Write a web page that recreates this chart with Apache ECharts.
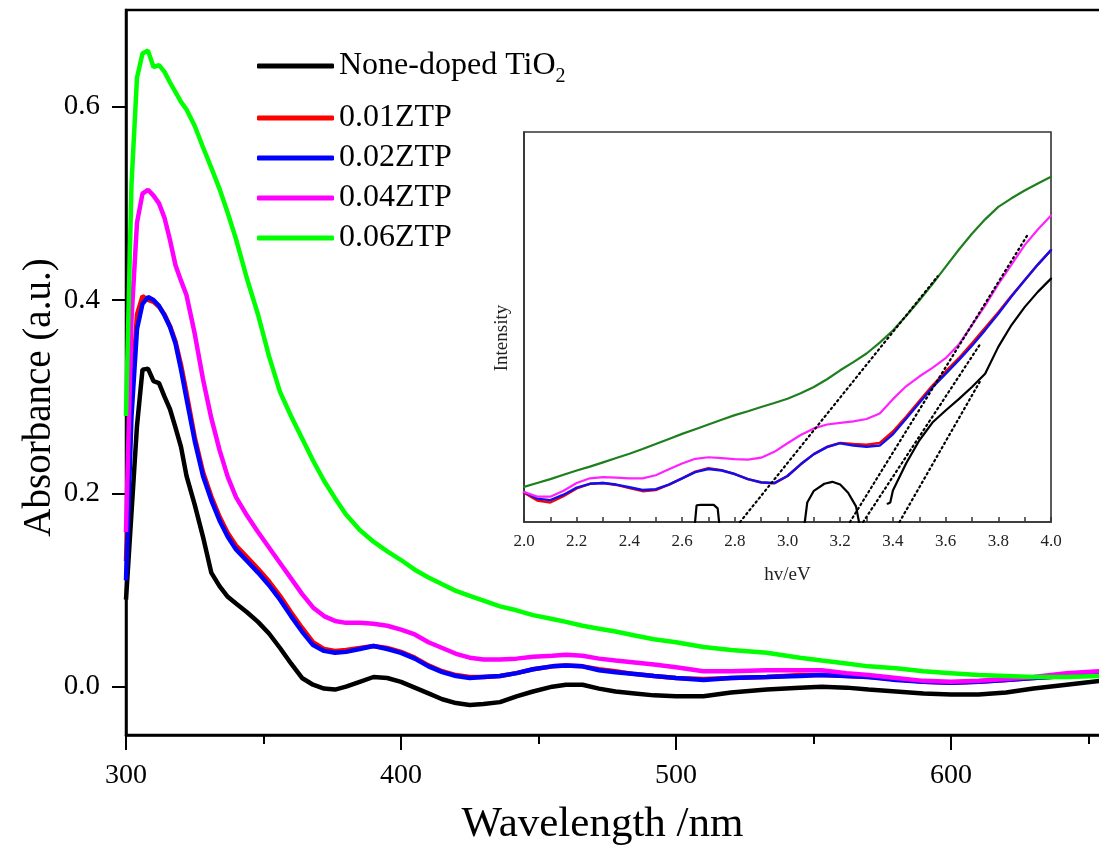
<!DOCTYPE html>
<html><head><meta charset="utf-8">
<script src="https://cdn.jsdelivr.net/npm/echarts@6/dist/echarts.min.js"></script>
<style>html,body{margin:0;padding:0;background:#fff}#c{width:1099px;height:848px}</style>
</head><body><div id="c"></div>
<script>
// ---------- main chart data ----------
const wavelength = [300,302,304,306,308,310,312,314,316,318,320,322,325,328,331,334,337,340,344,348,352,356,360,364,368,372,376,380,385,390,395,400,405,410,415,420,425,430,436,442,448,455,460,466,472,478,485,492,500,510,520,533,545,553,562,570,580,590,600,610,620,630,642,654];
const absNoneDoped = [0.09,0.18,0.27,0.328,0.329,0.316,0.314,0.300,0.287,0.268,0.248,0.218,0.188,0.155,0.118,0.104,0.093,0.086,0.077,0.067,0.055,0.040,0.024,0.009,0.002,-0.002,-0.003,0.000,0.005,0.010,0.009,0.005,-0.001,-0.007,-0.013,-0.017,-0.019,-0.018,-0.016,-0.010,-0.005,0.000,0.002,0.002,-0.002,-0.005,-0.007,-0.009,-0.010,-0.010,-0.006,-0.003,-0.001,0.000,-0.001,-0.003,-0.005,-0.007,-0.008,-0.008,-0.006,-0.002,0.002,0.006];
const abs001 = [0.13,0.30,0.385,0.404,0.400,0.398,0.393,0.385,0.373,0.357,0.333,0.304,0.258,0.222,0.197,0.176,0.159,0.146,0.134,0.122,0.109,0.094,0.077,0.061,0.046,0.039,0.037,0.038,0.040,0.042,0.040,0.036,0.030,0.022,0.016,0.012,0.010,0.010,0.011,0.014,0.018,0.021,0.022,0.021,0.018,0.016,0.013,0.011,0.009,0.008,0.009,0.010,0.012,0.012,0.011,0.010,0.008,0.005,0.004,0.005,0.007,0.009,0.011,0.013];
const abs002 = [0.11,0.28,0.37,0.396,0.403,0.400,0.394,0.384,0.372,0.355,0.328,0.298,0.254,0.218,0.193,0.172,0.155,0.142,0.130,0.118,0.105,0.090,0.073,0.057,0.043,0.037,0.035,0.036,0.039,0.042,0.039,0.035,0.029,0.021,0.015,0.011,0.009,0.010,0.011,0.014,0.018,0.021,0.022,0.021,0.017,0.015,0.013,0.011,0.009,0.007,0.009,0.010,0.011,0.012,0.011,0.010,0.007,0.005,0.004,0.005,0.007,0.009,0.011,0.013];
const abs004 = [0.16,0.38,0.48,0.510,0.514,0.508,0.500,0.485,0.462,0.436,0.420,0.405,0.365,0.318,0.278,0.245,0.217,0.196,0.177,0.160,0.144,0.128,0.112,0.096,0.082,0.073,0.068,0.066,0.066,0.065,0.063,0.059,0.054,0.046,0.040,0.034,0.030,0.028,0.028,0.029,0.031,0.032,0.033,0.032,0.029,0.027,0.025,0.023,0.020,0.016,0.016,0.017,0.017,0.017,0.014,0.012,0.009,0.006,0.005,0.006,0.008,0.010,0.014,0.016];
const abs006 = [0.28,0.52,0.63,0.655,0.658,0.641,0.643,0.636,0.625,0.615,0.605,0.597,0.580,0.558,0.537,0.515,0.490,0.463,0.422,0.385,0.342,0.305,0.280,0.257,0.234,0.213,0.195,0.178,0.162,0.150,0.140,0.131,0.121,0.113,0.106,0.099,0.094,0.089,0.083,0.079,0.074,0.070,0.067,0.063,0.060,0.057,0.053,0.049,0.046,0.041,0.038,0.035,0.030,0.027,0.024,0.021,0.019,0.016,0.014,0.012,0.011,0.010,0.010,0.011];
const seriesNames = ['None-doped TiO2','0.01ZTP','0.02ZTP','0.04ZTP','0.06ZTP'];
const xMajorTicks = [300,400,500,600];
const xMinorTicks = [350,450,550,650];
const yMajorTicks = [0,0.2,0.4,0.6];

// ---------- inset data ----------
const photonEnergy = [2.00,2.05,2.10,2.15,2.20,2.25,2.30,2.35,2.40,2.45,2.50,2.55,2.60,2.65,2.70,2.75,2.80,2.85,2.90,2.95,3.00,3.05,3.10,3.15,3.20,3.25,3.30,3.35,3.40,3.45,3.50,3.55,3.60,3.65,3.70,3.75,3.80,3.85,3.90,3.95,4.00];
const insetGreen = [9.0,10.0,11.0,12.1,13.2,14.2,15.3,16.4,17.5,18.7,20.0,21.3,22.6,23.8,25.0,26.2,27.4,28.4,29.5,30.5,31.6,33.0,34.6,36.6,38.9,41.0,43.2,46.0,49.1,52.8,56.8,61.0,65.4,69.8,73.9,77.6,80.8,83.0,85.0,86.8,88.5];
const insetMagenta = [7.7,6.5,6.5,8.0,10.0,11.2,11.5,11.4,11.2,11.2,12.0,13.5,15.0,16.2,16.6,16.4,16.1,16.0,16.5,18.0,20.2,22.3,24.0,25.0,25.4,25.8,26.4,27.8,31.5,34.8,37.3,39.5,42.0,45.5,50.5,55.5,61.0,66.0,71.0,75.0,78.6];
const insetRed = [7.5,5.5,5.0,6.6,8.6,9.8,10.0,9.5,8.7,7.9,8.2,9.6,11.2,12.9,13.8,13.3,12.3,11.0,10.1,9.9,11.8,14.8,17.4,19.3,20.3,20.0,19.8,20.3,23.2,27.0,31.0,35.0,38.6,42.0,45.8,49.8,53.8,58.0,62.0,66.0,69.7];
const insetBlue = [7.7,6.0,5.6,7.0,8.8,9.8,10.0,9.6,8.9,8.2,8.4,9.6,11.2,12.8,13.6,13.2,12.3,11.0,10.2,10.0,11.8,14.8,17.4,19.2,20.2,19.6,19.3,19.6,22.5,26.5,30.5,34.5,38.0,41.5,45.2,49.2,53.4,57.8,62.0,66.0,69.7];
const insetBlackE = [2.645,2.655,2.67,2.72,2.735,2.745,2.75, 3.06,3.075,3.10,3.14,3.17,3.20,3.23,3.26,3.28,3.29, 3.38,3.39,3.40,3.45,3.50,3.55,3.60,3.65,3.70,3.75,3.80,3.85,3.90,3.95,4.00];
const insetBlackV = [-3,4.3,4.4,4.4,3.5,-3,null, -3,5.0,8.0,9.8,10.3,9.6,7.5,4.0,-3,null, 4.7,5.0,8.1,15.0,20.9,25.5,28.6,31.5,34.6,38.0,44.9,50.5,55.1,59.0,62.4];
const tangentGreenE = [2.82,3.57];   const tangentGreenV = [0,63];
const tangentMagentaE = [3.237,3.91]; const tangentMagentaV = [0,73.5];
const tangentBlueE = [3.287,3.73];   const tangentBlueV = [0,45.5];
const tangentBlackE = [3.425,3.73];  const tangentBlackV = [0,36];

const FONT = 'Liberation Serif';
const mainColors = ['#000000','#ff0000','#0000ff','#ff00ff','#00ff00'];
const mainValues = [absNoneDoped, abs001, abs002, abs004, abs006];

const chart = echarts.init(document.getElementById('c'), null, {renderer:'canvas'});
const series = [];
mainValues.forEach((vals, k) => {
  series.push({
    name: seriesNames[k], type: 'line', xAxisIndex: 0, yAxisIndex: 0,
    showSymbol: false, symbol: 'none',
    lineStyle: {color: mainColors[k], width: 4.5},
    itemStyle: {color: mainColors[k]},
    data: wavelength.map((x, i) => [x, vals[i]])
  });
});
const insetLine = (name, xs, ys, color, width, type) => ({
  name, type: 'line', xAxisIndex: 2, yAxisIndex: 1, showSymbol: false, symbol: 'none',
  clip: true, connectNulls: false,
  lineStyle: {color, width, type: type || 'solid', cap: 'round'},
  itemStyle: {color},
  data: xs.map((x, i) => [x, ys[i] === null ? '-' : ys[i]])
});
series.push(insetLine('i-black', insetBlackE, insetBlackV, '#000', 2.2));
series.push(insetLine('i-red', photonEnergy, insetRed, '#ff0000', 2.4));
series.push(insetLine('i-blue', photonEnergy, insetBlue, '#1010ee', 2.4));
series.push(insetLine('i-magenta', photonEnergy, insetMagenta, '#ff22ff', 2.2));
series.push(insetLine('i-green', photonEnergy, insetGreen, '#1f7f1f', 2.2));
series.push(insetLine('t1', tangentGreenE, tangentGreenV, '#000', 2.2, [1.5,3.5]));
series.push(insetLine('t2', tangentMagentaE, tangentMagentaV, '#000', 2.2, [1.5,3.5]));
series.push(insetLine('t3', tangentBlueE, tangentBlueV, '#000', 2.2, [1.5,3.5]));
series.push(insetLine('t4', tangentBlackE, tangentBlackV, '#000', 2.2, [1.5,3.5]));

const legendText = {fontSize: 32, fontFamily: FONT, color: '#000',
  rich: {a: {fontSize: 32, fontFamily: FONT, color: '#000'},
         s: {fontSize: 20, fontFamily: FONT, color: '#000', padding: [22,0,0,0]}}};

chart.setOption({
  animation: false,
  backgroundColor: '#fff',
  grid: [
    {left: 126, top: 10, width: 979, height: 725, outerBoundsMode: 'none', containLabel: false,
     show: true, borderColor: '#000', borderWidth: 2.5, backgroundColor: 'transparent'},
    {left: 524, top: 132, width: 527, height: 390, outerBoundsMode: 'none', containLabel: false,
     show: true, borderColor: '#333', borderWidth: 1.6, backgroundColor: '#fff'}
  ],
  legend: [
    {data: [seriesNames[0]], orient: 'vertical', left: 252, top: 45, icon: 'roundRect',
     itemWidth: 77, itemHeight: 5, textStyle: legendText,
     formatter: n => '{a|None-doped TiO}{s|2}'},
    {data: seriesNames.slice(1), orient: 'vertical', left: 252, top: 97, itemGap: 8, icon: 'roundRect',
     itemWidth: 77, itemHeight: 5, textStyle: {fontSize: 32, fontFamily: FONT, color: '#000'}}
  ],
  xAxis: [
    {type: 'value', gridIndex: 0, position: 'bottom', min: 300, max: 656,
     axisLine: {onZero: false, lineStyle: {color: '#000', width: 2.5}},
     axisTick: {customValues: xMajorTicks, length: 15, lineStyle: {color: '#000', width: 2}},
     axisLabel: {customValues: xMajorTicks, fontSize: 28, fontFamily: FONT, color: '#000', margin: 27},
     splitLine: {show: false},
     name: 'Wavelength /nm', nameLocation: 'middle', nameGap: 68, nameMoveOverlap: false,
     nameTextStyle: {fontSize: 43, fontFamily: FONT, color: '#000', padding: [0, 26, 0, 0]}},
    {type: 'value', gridIndex: 0, position: 'bottom', min: 300, max: 656,
     axisLine: {show: false, onZero: false},
     axisTick: {customValues: xMinorTicks, length: 9, lineStyle: {color: '#000', width: 2}},
     axisLabel: {show: false}, splitLine: {show: false}},
    {type: 'value', gridIndex: 1, min: 2.0, max: 4.0, interval: 0.2,
     axisLine: {onZero: false, lineStyle: {color: '#333', width: 1.6}},
     axisTick: {inside: true, length: 5, lineStyle: {color: '#333', width: 1.5}},
     minorTick: {show: true, splitNumber: 2, length: 5, lineStyle: {color: '#333', width: 1.5}},
     axisLabel: {fontSize: 17, fontFamily: FONT, color: '#222', margin: 11, formatter: v => v.toFixed(1)},
     splitLine: {show: false}, minorSplitLine: {show: false},
     name: 'hv/eV', nameLocation: 'middle', nameGap: 44, nameMoveOverlap: false,
     nameTextStyle: {fontSize: 19, fontFamily: FONT, color: '#222'}}
  ],
  yAxis: [
    {type: 'value', gridIndex: 0, position: 'left', min: -0.05, max: 0.70,
     axisLine: {show: true, onZero: false, lineStyle: {color: '#000', width: 2.5}},
     axisTick: {show: true, customValues: yMajorTicks, length: 14, lineStyle: {color: '#000', width: 2}},
     axisLabel: {customValues: yMajorTicks, fontSize: 29, fontFamily: FONT, color: '#000', margin: 26, formatter: v => v.toFixed(1)},
     splitLine: {show: false},
     name: 'Absorbance (a.u.)', nameLocation: 'middle', nameGap: 67, nameMoveOverlap: false,
     nameTextStyle: {fontSize: 39, fontFamily: FONT, color: '#000', padding: [0, 50, 0, 0]}},
    {type: 'value', gridIndex: 1, min: 0, max: 100,
     axisLine: {show: true, onZero: false, lineStyle: {color: '#333', width: 1.6}},
     axisTick: {show: false}, axisLabel: {show: false}, splitLine: {show: false},
     name: 'Intensity', nameLocation: 'middle', nameGap: 12, nameMoveOverlap: false,
     nameTextStyle: {fontSize: 19, fontFamily: FONT, color: '#222', padding: [0, 22, 0, 0]}}
  ],
  series
});
</script></body></html>
